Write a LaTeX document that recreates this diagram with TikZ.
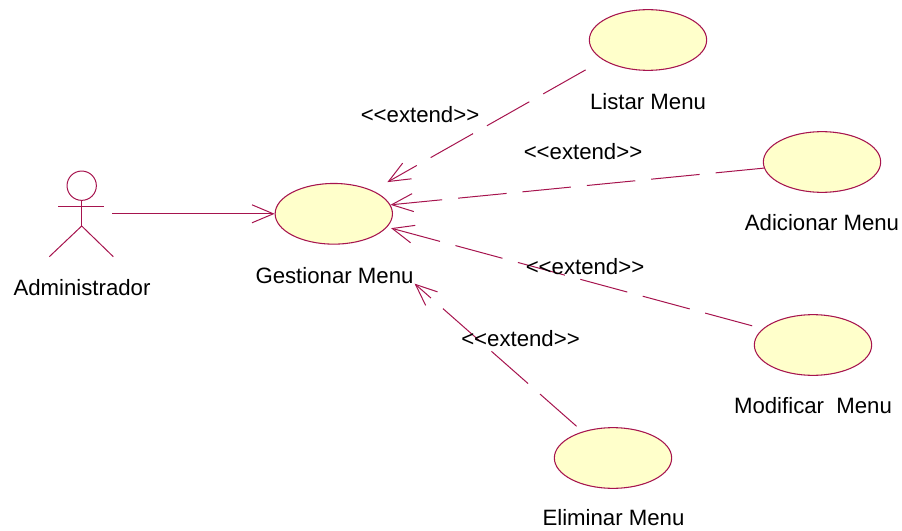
\documentclass[tikz,border=0pt]{standalone}
\usepackage{fontspec}
\setmainfont{Liberation Sans}
\usetikzlibrary{arrows.meta}
\usetikzlibrary{shapes.geometric}
\definecolor{roseline}{RGB}{166,20,78}
\definecolor{rosefill}{RGB}{255,255,203}
\tikzset{
usecase/.style={draw=roseline,fill=rosefill,line width=0.8pt,ellipse,inner sep=0pt,minimum width=88pt,minimum height=45.5pt},
actorpart/.style={draw=roseline,line width=0.75pt},
titletext/.style={inner sep=0.75pt,font=\fontsize{16.65}{20}\selectfont},
assoc/.style={draw=roseline,line width=0.75pt,-{Straight Barb[length=16pt,width=13.5pt]}},
extendline/.style={assoc,dash pattern=on 36.5pt off 12pt},
}

\begin{document}
\begin{tikzpicture}[x=0.75pt,y=0.75pt,yscale=-1,xscale=1]
\useasboundingbox (0,0) rectangle (902,531);

% Actor
\node [circle,draw=roseline,line width=0.75pt,inner sep=0pt,minimum size=22pt] (head) at (81.7,185.7) {};
\coordinate (armleft) at (58.3,206.8);
\coordinate (armright) at (104,206.8);
\coordinate (hip) at (81.7,226);
\coordinate (footleft) at (49.3,256.7);
\coordinate (footright) at (113.3,256.7);
\coordinate (actorout) at (112,213.8);
\draw [actorpart] (head.south) -- (hip);
\draw [actorpart] (armleft) -- (armright);
\draw [actorpart] (footleft) -- (hip) -- (footright);

% Use cases
\node [usecase] (gestionar) at (333.8,213.8) {};
\node [usecase] (listar) at (648,40) {};
\node [usecase] (adicionar) at (822,162) {};
\node [usecase] (modificar) at (813,345) {};
\node [usecase] (eliminar) at (613,458) {};

% Connectors
\draw [assoc] (actorout) -- (gestionar.west);
\draw [extendline,shorten <=15pt,shorten >=12.75pt] (listar.204) -- (gestionar.31);
\draw [extendline] (adicionar.186) -- (gestionar.9);
\draw [extendline,shorten <=8.25pt,shorten >=3pt] (modificar.162.4) -- (gestionar.346.5);
\draw [extendline,shorten <=6pt,shorten >=49.5pt] (eliminar.139.3) -- (gestionar.320);

% Text Node
\node [titletext] (actorname) at (82,288) {Administrador};
\node [titletext] (gestionarname) at (334.5,276) {Gestionar Menu};
\node [titletext] (listarname) at (648,102) {Listar Menu};
\node [titletext] (adicionarname) at (822,223) {Adicionar Menu};
\node [titletext] (modificarname) at (813,406) {Modificar\ \ Menu};
\node [titletext] (eliminarname) at (613.5,518) {Eliminar Menu};
% Text Node
\node [titletext] (extendlistar) at (420,114.5) {<{}<extend>{}>};
\node [titletext] (extendadicionar) at (583,151.5) {<{}<extend>{}>};
\node [titletext] (extendmodificar) at (585,266.5) {<{}<extend>{}>};
\node [titletext] (extendeliminar) at (520.5,338.5) {<{}<extend>{}>};

\end{tikzpicture}
\end{document}
